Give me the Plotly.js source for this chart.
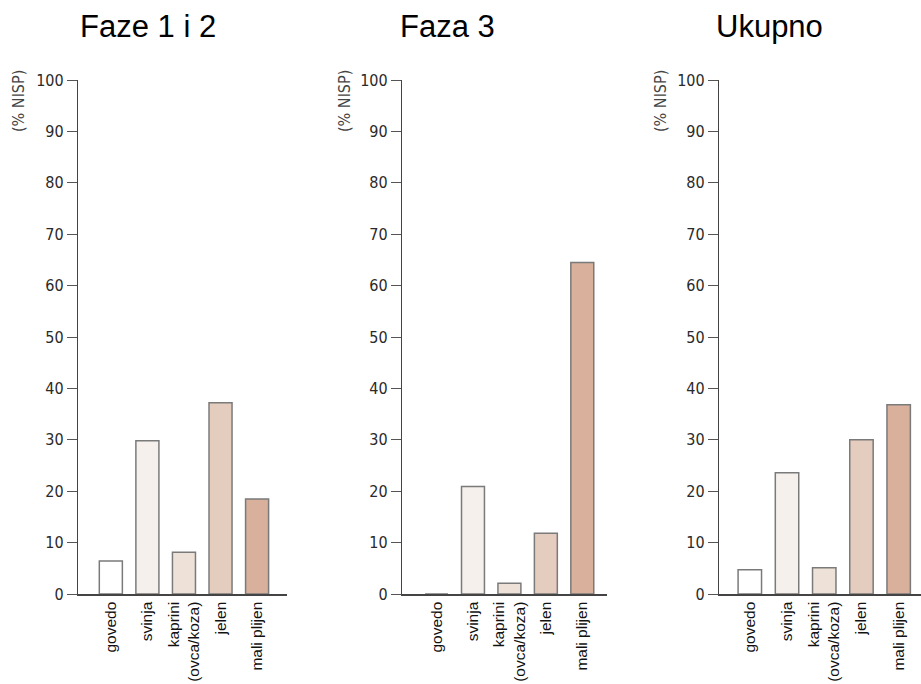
<!DOCTYPE html>
<html>
<head>
<meta charset="utf-8">
<script src="https://cdn.plot.ly/plotly-3.0.1.min.js"></script>
<style>html,body{margin:0;padding:0;background:#fff;}#chart{width:921px;height:684px;}</style>
</head>
<body>
<div id="chart"></div>
<script>
// ---- data ----
const categories = ["govedo", "svinja", "kaprini<br>(ovca/koza)", "jelen", "mali plijen"];
const panelTitles = ["Faze 1 i 2", "Faza 3", "Ukupno"];
const faze12 = [6.4, 29.8, 8.1, 37.2, 18.5];
const faza3 = [0, 20.9, 2.1, 11.8, 64.5];
const ukupno = [4.7, 23.6, 5.1, 30.0, 36.8];
const yTitle = "(% NISP)";
const yTickVals = [0, 10, 20, 30, 40, 50, 60, 70, 80, 90, 100];
const barColors = ["#ffffff", "#f5f0eb", "#eee2d8", "#e4ccbe", "#d8b09c"];

// ---- layout helpers (pixels of the 921x684 page) ----
const W = 921, H = 684;
const yTop = 80, yZero = 594;
const panels = [
  {vals: faze12, dom: [78.3, 286.7], range: [-0.89, 4.81], titleX: 147.5, yTitleX: 19},
  {vals: faza3, dom: [402.3, 606.7], range: [-0.94, 4.67], titleX: 447.5, yTitleX: 345},
  {vals: ukupno, dom: [719.3, 921], range: [-0.82, 4.6], titleX: 769.5, yTitleX: 661}
];

const data = [];
const layout = {
  width: W, height: H,
  margin: {l: 0, r: 0, t: 0, b: 0},
  paper_bgcolor: "#ffffff", plot_bgcolor: "rgba(0,0,0,0)",
  showlegend: false,
  annotations: []
};

panels.forEach((p, i) => {
  const n = i === 0 ? "" : String(i + 1);
  data.push({
    type: "bar",
    x: categories.map((c, k) => k),
    y: p.vals,
    xaxis: "x" + n, yaxis: "y" + n,
    width: 0.63,
    marker: {color: barColors, line: {color: "#7a7a7a", width: 1.5}},
    hoverinfo: "skip"
  });
  layout["xaxis" + n] = {
    domain: [p.dom[0] / W, p.dom[1] / W],
    anchor: "y" + n,
    range: p.range,
    tickmode: "array",
    tickvals: categories.map((c, k) => k),
    ticktext: categories,
    tickangle: -90,
    ticks: "",
    ticklabelstandoff: 0,
    showline: true, linecolor: "#444", linewidth: 1.5,
    showgrid: false, zeroline: false,
    tickfont: {family: "Liberation Sans, Arial, sans-serif", size: 15.5, color: "#111"},
    fixedrange: true
  };
  layout["yaxis" + n] = {
    domain: [(H - yZero) / H, (H - yTop) / H],
    anchor: "x" + n,
    range: [0, 100],
    tickmode: "array",
    tickvals: yTickVals,
    ticktext: yTickVals.map(String),
    ticks: "outside", ticklen: 10, tickwidth: 1, tickcolor: "#555",
    showline: true, linecolor: "#444", linewidth: 1.5,
    showgrid: false, zeroline: false,
    tickfont: {family: "DejaVu Sans Condensed, Liberation Sans Narrow, sans-serif", size: 16, color: "#2a2a2a"},
    fixedrange: true
  };
  layout.annotations.push({
    xref: "paper", yref: "paper",
    x: p.titleX / W, y: (H - 26.5) / H,
    xanchor: "center", yanchor: "middle",
    text: panelTitles[i], showarrow: false,
    font: {family: "Liberation Sans, Arial, sans-serif", size: 31, color: "#000"}
  });
  layout.annotations.push({
    xref: "paper", yref: "paper",
    x: p.yTitleX / W, y: (H - 101) / H,
    xanchor: "center", yanchor: "middle",
    textangle: -90,
    text: yTitle, showarrow: false,
    font: {family: "DejaVu Sans Condensed, Liberation Sans Narrow, sans-serif", size: 16, color: "#444"}
  });
});

Plotly.newPlot("chart", data, layout, {displayModeBar: false, staticPlot: true});
</script>
</body>
</html>
